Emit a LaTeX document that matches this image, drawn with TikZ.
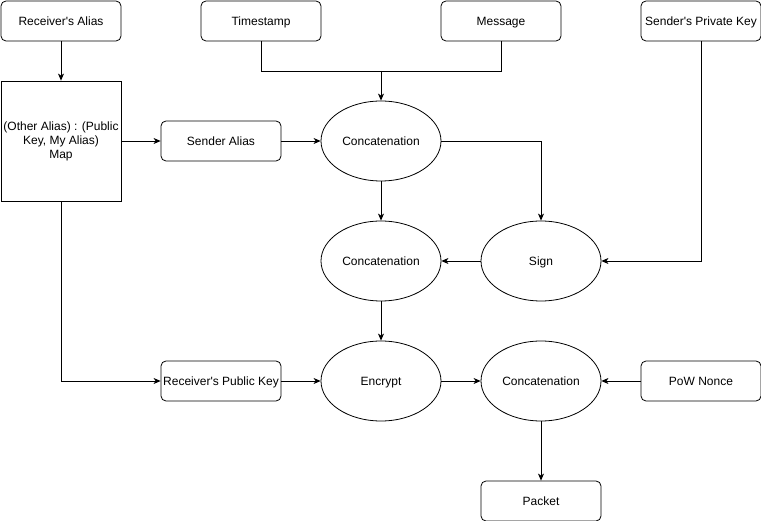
\documentclass[tikz,border=0pt]{standalone}
\usepackage{fontspec}
\setmainfont{Liberation Sans}
\usetikzlibrary{arrows.meta,shapes.geometric}
\tikzset{
  box/.style={draw, rounded corners=5pt, minimum width=120pt, minimum height=40pt, inner sep=0pt, text height=9pt, text depth=0pt},
  mapbox/.style={draw, minimum width=120pt, minimum height=120pt, inner sep=0pt, align=center},
  oval/.style={draw, ellipse, minimum width=120pt, minimum height=80pt, inner sep=0pt, text height=9pt, text depth=0pt},
  arr/.style={-{Stealth[length=7pt,width=6pt,inset=2pt]}},
}
\begin{document}
\begin{tikzpicture}[x=1pt, y=-1pt, line width=0.8pt, font=\fontsize{12}{14}\selectfont]
			%%%%% START %%%%%
			\useasboundingbox (0,0) rectangle (761,521);
			
			% top row
			\node[box] (ralias) at (61, 21) {Receiver\textquotesingle s Alias};
			\node[box] (tstamp) at (261, 21) {Timestamp};
			\node[box] (msg) at (501, 21) {Message};
			\node[box] (spkey) at (701, 21) {Sender\textquotesingle s Private Key};
			
			\node[mapbox] (amap) at (61, 141) {(Other Alias) : (Public\\Key, My Alias)\\Map};
			\node[box] (salias) at (221, 141) {Sender Alias};
			
			\node[oval] (cat1) at (381, 141) {Concatenation};
			\node[oval] (cat2) at (381, 261) {Concatenation};
			\node[oval] (sign) at (541, 261) {Sign};
			
			\node[box] (rpkey) at (221, 381) {Receiver\textquotesingle s Public Key};
			\node[oval] (encr) at (381, 381) {Encrypt};
			\node[oval] (cat3) at (541, 381) {Concatenation};
			\node[box] (nonce) at (701, 381) {PoW Nonce};
			
			\node[box] (packet) at (541, 501) {Packet};
			
			\coordinate (tjoin) at (381, 71);
			
			% connectors
			\draw[arr] (ralias) -- (amap);
			\draw (tstamp) |- (tjoin);
			\draw (msg) |- (tjoin);
			\draw[arr] (tjoin) -- (cat1);
			\draw[arr] (amap) -- (salias);
			\draw[arr] (salias) -- (cat1);
			\draw[arr] (cat1) -- (cat2);
			\draw[arr] (cat1.east) -| (sign.north);
			\draw[arr] (spkey.south) |- (sign.east);
			\draw[arr] (sign) -- (cat2);
			\draw[arr] (cat2) -- (encr);
			\draw[arr] (amap.south) |- (rpkey.west);
			\draw[arr] (rpkey) -- (encr);
			\draw[arr] (encr) -- (cat3);
			\draw[arr] (nonce) -- (cat3);
			\draw[arr] (cat3) -- (packet);
			
			%%%%% END %%%%%
\end{tikzpicture}
\end{document}
